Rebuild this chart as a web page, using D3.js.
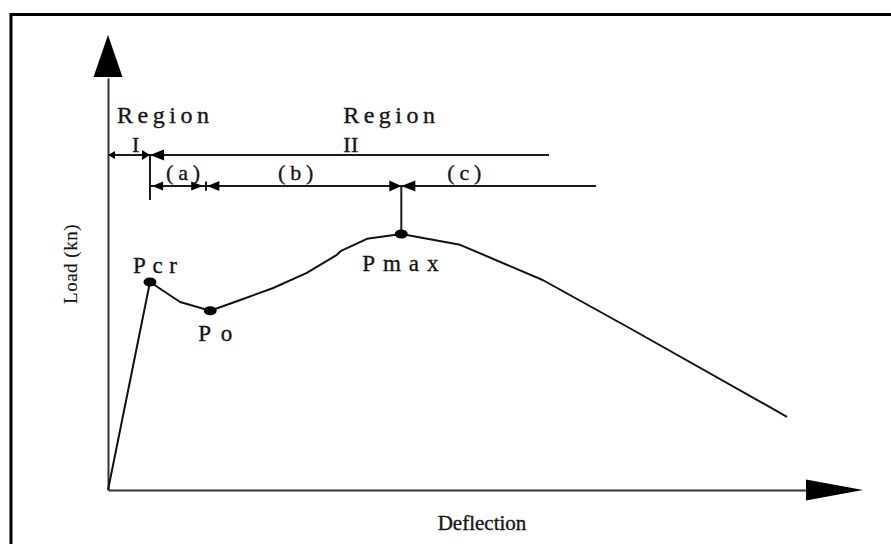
<!DOCTYPE html>
<html>
<head>
<meta charset="utf-8">
<script src="https://cdn.jsdelivr.net/npm/d3@7"></script>
<style>
  body { margin: 0; background: #fff; }
  svg text { font-family: "Liberation Serif", "DejaVu Serif", serif; fill: #151515; stroke: #151515; stroke-width: 0.35px; }
</style>
</head>
<body>
<div id="wrapper"></div>
<script>
// load - deflection curve (arbitrary units)
const deflection = [0, 6.0, 10.3, 14.6, 18.9, 23.6, 28.4, 32.7, 33.3, 37.0, 41.9, 50.3, 62.1, 75.0, 97.0];
const load       = [0, 52.0, 47.0, 44.8, 47.5, 50.5, 54.3, 58.8, 59.8, 62.8, 64.0, 61.3, 52.5, 40.0, 18.3];

// named points on the curve (index into the arrays above)
const pointNames = ["Pcr", "Po", "Pmax"];
const pointIndex = [1, 3, 10];

// region boundaries along the deflection axis
const regionNames = [["Region", "I"], ["Region", "II"]];
const regionBounds = [0, 6.0, 63.0];
const subRegionNames = ["(a)", "(b)", "(c)"];
const subRegionBounds = [6.0, 14.0, 41.9, 69.7];
// load levels of the two annotation rows
const rowLevels = [83.75, 76.0];

const xLabel = "Deflection";
const yLabel = "Load (kn)";

const data = deflection.map((d, i) => ({ x: d, y: load[i] }));

var dimension = {
    width: 891,
    height: 544,
    margin: { top: 78, left: 108, bottom: 54, right: 83 }
};
dimension.boundedWidth = dimension.width - dimension.margin.left - dimension.margin.right;
dimension.boundedHeight = dimension.height - dimension.margin.top - dimension.margin.bottom;

const svg = d3.select("#wrapper").append("svg")
    .attr("width", dimension.width)
    .attr("height", dimension.height);

// outer frame (runs off the right and bottom edges)
svg.append("rect")
    .attr("x", 11).attr("y", 14.5)
    .attr("width", 1000).attr("height", 700)
    .attr("fill", "none")
    .attr("stroke", "#000")
    .attr("stroke-width", 3);

const bounded = svg.append("g")
    .attr("transform", `translate(${dimension.margin.left},${dimension.margin.top})`);

const xScaler = d3.scaleLinear()
    .domain([0, 100])
    .range([0, 700]);
const yScaler = d3.scaleLinear()
    .domain([0, 103])
    .range([dimension.boundedHeight, 0]);

// a filled triangle whose tip is at (tx,ty), pointing along (dx,dy)
const arrow = (tx, ty, dx, dy, len, half) => {
    const bx = tx - dx * len, by = ty - dy * len;
    const px = -dy * half, py = dx * half;
    return `M${tx},${ty}L${bx + px},${by + py}L${bx - px},${by - py}Z`;
};

// axes without ticks
const xAxis = bounded.append("g")
    .attr("transform", `translate(0,${dimension.boundedHeight})`)
    .call(d3.axisBottom(xScaler).tickValues([]).tickSizeOuter(0));
const yAxis = bounded.append("g")
    .call(d3.axisLeft(yScaler).tickValues([]).tickSizeOuter(0));
[xAxis, yAxis].forEach(a => a.select(".domain")
    .attr("stroke", "#333").attr("stroke-width", 2));

bounded.append("path")
    .attr("d", arrow(xScaler(100) + 55, yScaler(0), 1, 0, 57, 10.5))
    .attr("fill", "#000");
bounded.append("path")
    .attr("d", arrow(xScaler(0), yScaler(103) - 43, 0, -1, 42, 14.5))
    .attr("fill", "#000");

// the curve
const lineGenerator = d3.line()
    .x(d => xScaler(d.x))
    .y(d => yScaler(d.y));
bounded.append("path")
    .attr("d", lineGenerator(data))
    .attr("fill", "none")
    .attr("stroke", "#111")
    .attr("stroke-width", 2)
    .attr("stroke-linejoin", "round");

// annotation lines
const ann = bounded.append("g")
    .attr("stroke", "#1a1a1a")
    .attr("stroke-width", 2)
    .attr("fill", "none");
const hLine = (x0, x1, y) => ann.append("line")
    .attr("x1", xScaler(x0)).attr("x2", xScaler(x1))
    .attr("y1", yScaler(y)).attr("y2", yScaler(y));
const vLine = (x, y0, y1) => ann.append("line")
    .attr("x1", xScaler(x)).attr("x2", xScaler(x))
    .attr("y1", yScaler(y0)).attr("y2", yScaler(y1));
const head = (x, y, dir, len, half) => bounded.append("path")
    .attr("d", arrow(xScaler(x), yScaler(y), dir, 0, len, half))
    .attr("fill", "#000");

const r1 = rowLevels[0], r2 = rowLevels[1];
const pMax = data[pointIndex[2]];

// row 1 : Region I / Region II
hLine(regionBounds[0], regionBounds[2], r1);
head(regionBounds[0], r1, -1, 7, 4);
head(regionBounds[1], r1, 1, 8, 5);
head(regionBounds[1], r1, -1, 14, 5.5);
vLine(regionBounds[1], r1, r1 - 11.25);

// row 2 : (a) (b) (c)
hLine(subRegionBounds[0], subRegionBounds[3], r2);
head(subRegionBounds[0] + 0.3, r2, -1, 11, 4.5);
head(subRegionBounds[1] - 0.4, r2, 1, 12, 4.5);
vLine(subRegionBounds[1], r2 + 1.1, r2 - 1.2);
head(subRegionBounds[1] + 0.2, r2, -1, 12, 5);
head(subRegionBounds[2], r2, 1, 12, 5.5);
head(subRegionBounds[2], r2, -1, 14, 5.5);
vLine(pMax.x, r2, pMax.y);

// points on the curve
bounded.selectAll(".pt")
    .data(pointIndex.map(i => data[i]))
    .join("ellipse")
    .attr("cx", d => xScaler(d.x))
    .attr("cy", d => yScaler(d.y))
    .attr("rx", 6.5).attr("ry", 4.5)
    .attr("fill", "#000");

// point labels
const ptOffsets = [[-17, -9, 6.6], [-12, 30, 9.7], [-39, 37, 7.9]];
bounded.selectAll(".ptLabel")
    .data(pointNames)
    .join("text")
    .attr("x", (d, i) => xScaler(data[pointIndex[i]].x) + ptOffsets[i][0])
    .attr("y", (d, i) => yScaler(data[pointIndex[i]].y) + ptOffsets[i][1])
    .attr("font-size", 23)
    .attr("letter-spacing", (d, i) => ptOffsets[i][2])
    .text(d => d);

// region labels
const regionX = [regionBounds[0] + 1.3, regionBounds[1] + 27.6];
const numeralDx = [15, 0];
regionNames.forEach((lines, i) => {
    const t = bounded.append("text")
        .attr("font-size", 24)
        .attr("letter-spacing", 4.5);
    t.append("tspan")
        .attr("x", xScaler(regionX[i]))
        .attr("y", yScaler(r1) - 32)
        .text(lines[0]);
    t.append("tspan")
        .attr("x", xScaler(regionX[i]) + numeralDx[i])
        .attr("y", yScaler(r1) - 3)
        .attr("font-size", 22)
        .attr("letter-spacing", 0.5)
        .text(lines[1]);
});

const subDx = [16, 72, 46];
bounded.selectAll(".subLabel")
    .data(subRegionNames)
    .join("text")
    .attr("x", (d, i) => xScaler(subRegionBounds[i]) + subDx[i])
    .attr("y", yScaler(r2) - 6)
    .attr("font-size", 22)
    .attr("letter-spacing", 4.8)
    .text(d => d);

// axis titles
svg.append("text")
    .attr("transform", `translate(77,264) rotate(-90)`)
    .attr("text-anchor", "middle")
    .attr("font-size", 19)
    .attr("letter-spacing", 0.5)
    .style("stroke-width", "0.15px")
    .text(yLabel);
svg.append("text")
    .attr("x", 482)
    .attr("y", 530)
    .attr("text-anchor", "middle")
    .attr("font-size", 21)
    .text(xLabel);
</script>
</body>
</html>
